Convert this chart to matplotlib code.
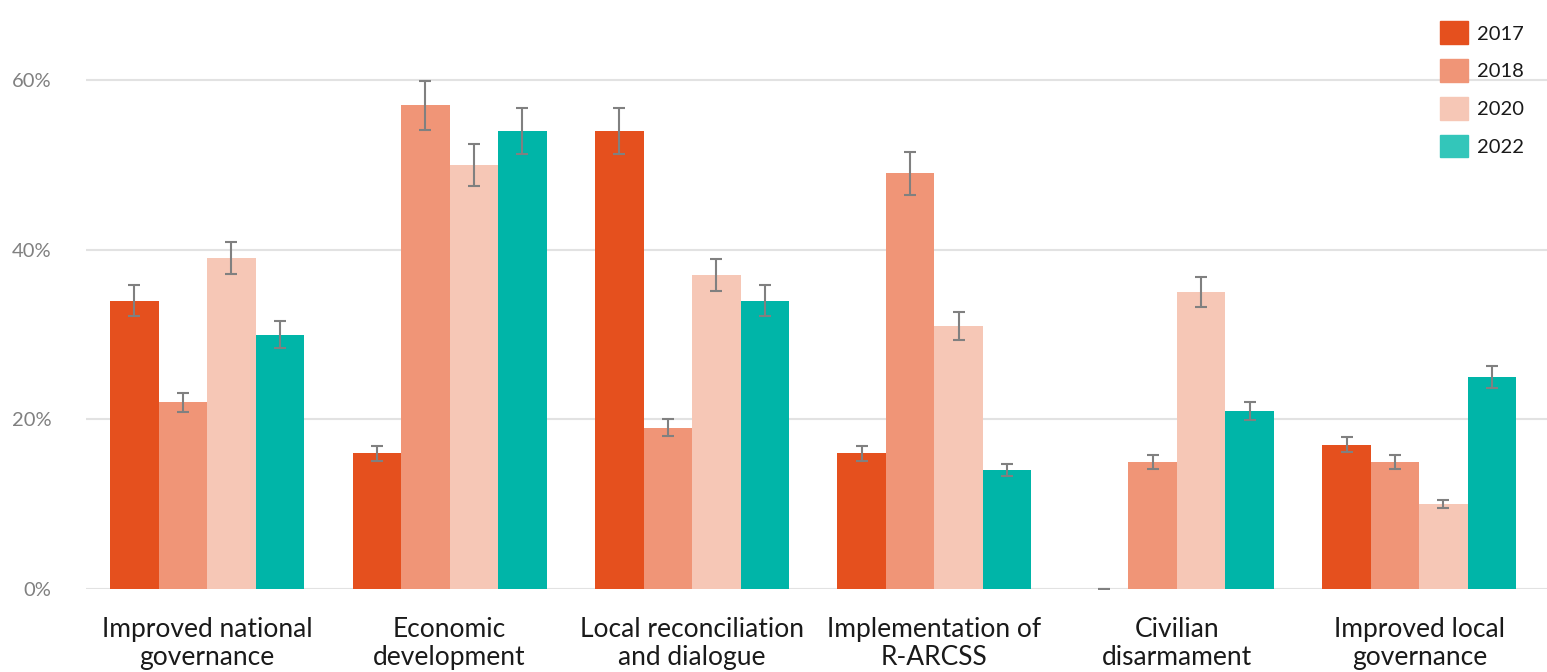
import matplotlib.pyplot as plt
import numpy as np

plt.rcParams['font.family'] = ['Lato', 'DejaVu Sans']

categories = ["Improved national\ngovernance", "Economic\ndevelopment",
              "Local reconciliation\nand dialogue", "Implementation of\nR-ARCSS",
              "Civilian\ndisarmament", "Improved local\ngovernance"]
years = ["2017", "2018", "2020", "2022"]

vals_2017 = [34, 16, 54, 16, 0, 17]
vals_2018 = [22, 57, 19, 49, 15, 15]
vals_2020 = [39, 50, 37, 31, 35, 10]
vals_2022 = [30, 54, 34, 14, 21, 25]

err_2017 = [1.8, 0.9, 2.7, 0.9, 0.0, 0.9]
err_2018 = [1.1, 2.9, 1.0, 2.5, 0.8, 0.8]
err_2020 = [1.9, 2.5, 1.9, 1.6, 1.8, 0.5]
err_2022 = [1.6, 2.7, 1.8, 0.7, 1.1, 1.3]

colors = ["#E5501E", "#F09577", "#F6C7B6", "#00B5A8"]
legend_colors = ["#E5501E", "#F09577", "#F6C7B6", "#33C6BA"]

series = [vals_2017, vals_2018, vals_2020, vals_2022]
errors = [err_2017, err_2018, err_2020, err_2022]

fig = plt.figure(figsize=(15.47, 6.72), dpi=100)
ax = fig.add_axes([86 / 1547, 1 - 589 / 672, 1 - 86 / 1547, 66 * 8.483 / 672])

x = np.arange(len(categories))
w = 0.2
for i, (vals, errs) in enumerate(zip(series, errors)):
    pos = x + (i - 1.5) * w
    ax.bar(pos, vals, width=w, color=colors[i], zorder=2)
    ax.errorbar(pos, vals, yerr=errs, fmt='none', ecolor='#808080',
                elinewidth=1.5, capsize=4.5, capthick=1.5, zorder=3)

ax.set_xlim(-0.5, 5.527)
ax.set_ylim(0, 66)
ax.set_yticks([0, 20, 40, 60])
ax.set_yticklabels(["0%", "20%", "40%", "60%"])
ax.yaxis.grid(True, color='#E2E2E2', linewidth=1.5, zorder=0)
ax.set_axisbelow(True)
for s in ax.spines.values():
    s.set_visible(False)
ax.tick_params(axis='y', length=0, pad=25, labelsize=14.5, labelcolor='#808080')
ax.tick_params(axis='x', length=0, pad=20, labelsize=19, labelcolor='#1a1a1a')
ax.set_xticks(x)
ax.set_xticklabels(categories, linespacing=1.15)

handles = [plt.Rectangle((0, 0), 1, 1, color=c) for c in legend_colors]
fig.legend(handles, years, loc='upper right', bbox_to_anchor=(0.997, 0.995),
           frameon=False, fontsize=14.5, handlelength=1.4, handleheight=1.35,
           labelspacing=0.75, handletextpad=0.45, labelcolor='#1a1a1a')

fig.savefig("out.png", dpi=100)
